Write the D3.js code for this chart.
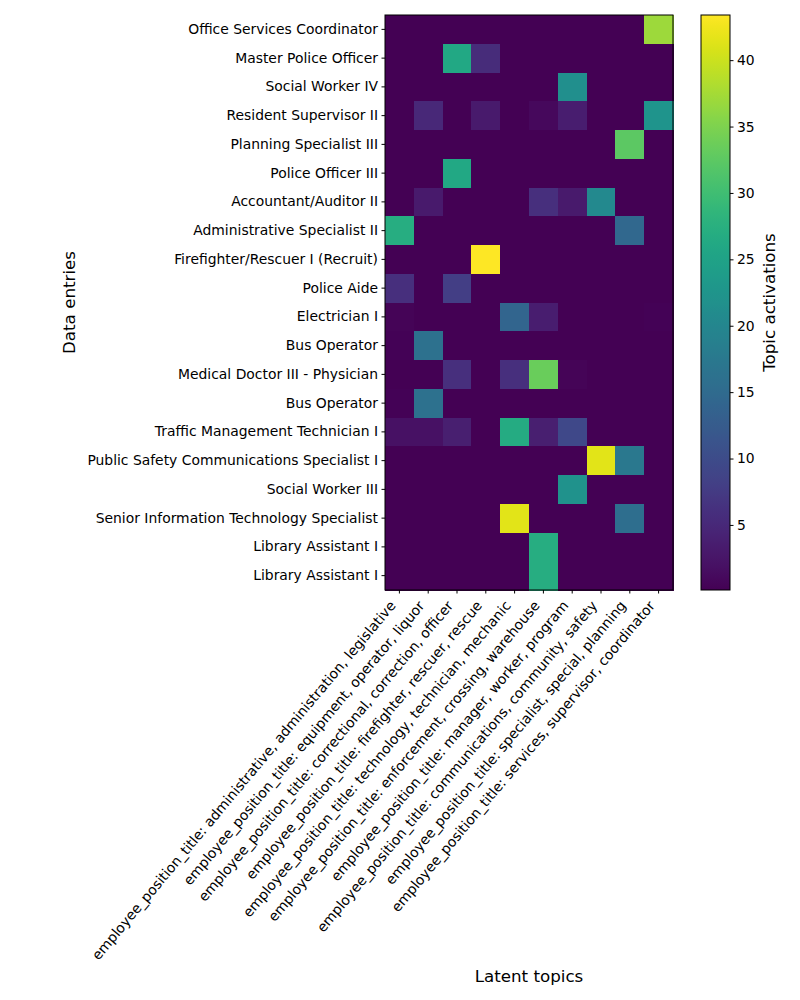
<!DOCTYPE html>
<html>
<head>
<meta charset="utf-8">
<script src="https://cdn.jsdelivr.net/npm/d3@7"></script>
<style>
  body { margin: 0; background: #fff; }
  text { font-family: "DejaVu Sans", sans-serif; fill: #000; }
</style>
</head>
<body>
<svg id="chart" width="800" height="1000"></svg>
<script>
const rowLabels = [
  "Office Services Coordinator",
  "Master Police Officer",
  "Social Worker IV",
  "Resident Supervisor II",
  "Planning Specialist III",
  "Police Officer III",
  "Accountant/Auditor II",
  "Administrative Specialist II",
  "Firefighter/Rescuer I (Recruit)",
  "Police Aide",
  "Electrician I",
  "Bus Operator",
  "Medical Doctor III - Physician",
  "Bus Operator",
  "Traffic Management Technician I",
  "Public Safety Communications Specialist I",
  "Social Worker III",
  "Senior Information Technology Specialist",
  "Library Assistant I",
  "Library Assistant I"
];

const topicLabels = [
  "employee_position_title: administrative, administration, legislative",
  "employee_position_title: equipment, operator, liquor",
  "employee_position_title: correctional, correction, officer",
  "employee_position_title: firefighter, rescuer, rescue",
  "employee_position_title: technology, technician, mechanic",
  "employee_position_title: enforcement, crossing, warehouse",
  "employee_position_title: manager, worker, program",
  "employee_position_title: communications, community, safety",
  "employee_position_title: specialist, special, planning",
  "employee_position_title: services, supervisor, coordinator"
];

const activations = [
  [0.1, 0.1, 0.1, 0.1, 0.1, 0.1, 0.1, 0.1, 0.1, 37.0],
  [0.1, 0.1, 26.0, 5.5, 0.1, 0.1, 0.1, 0.1, 0.1, 0.1],
  [0.1, 0.1, 0.1, 0.1, 0.1, 0.1, 21.5, 0.1, 0.1, 0.1],
  [0.1, 5.0, 0.1, 3.0, 0.1, 1.0, 3.5, 0.1, 0.1, 22.5],
  [0.1, 0.1, 0.1, 0.1, 0.1, 0.1, 0.1, 0.1, 32.5, 0.1],
  [0.1, 0.1, 26.0, 0.1, 0.1, 0.1, 0.1, 0.1, 0.1, 0.1],
  [0.1, 3.0, 0.1, 0.1, 0.1, 6.0, 3.0, 20.5, 0.1, 0.1],
  [27.0, 0.1, 0.1, 0.1, 0.1, 0.1, 0.1, 0.1, 14.5, 0.1],
  [0.1, 0.1, 0.1, 43.4, 0.1, 0.1, 0.1, 0.1, 0.1, 0.1],
  [6.0, 0.1, 8.0, 0.1, 0.1, 0.1, 0.1, 0.1, 0.1, 0.1],
  [0.5, 0.1, 0.1, 0.1, 14.0, 3.5, 0.1, 0.1, 0.1, 0.3],
  [0.4, 16.0, 0.1, 0.1, 0.1, 0.1, 0.1, 0.1, 0.1, 0.1],
  [0.1, 0.1, 6.0, 0.1, 6.0, 33.5, 0.6, 0.1, 0.1, 0.1],
  [0.4, 16.0, 0.1, 0.1, 0.1, 0.1, 0.1, 0.1, 0.1, 0.1],
  [2.0, 2.0, 3.8, 0.1, 26.5, 3.8, 9.5, 0.1, 0.1, 0.1],
  [0.1, 0.1, 0.1, 0.1, 0.1, 0.1, 0.1, 41.5, 17.5, 0.1],
  [0.1, 0.1, 0.1, 0.1, 0.1, 0.1, 22.0, 0.1, 0.1, 0.1],
  [0.1, 0.1, 0.1, 0.1, 41.5, 0.1, 0.1, 0.1, 15.5, 0.1],
  [0.1, 0.1, 0.1, 0.1, 0.1, 27.0, 0.1, 0.1, 0.1, 0.1],
  [0.1, 0.1, 0.1, 0.1, 0.1, 27.0, 0.1, 0.1, 0.1, 0.1]
];

const colorbarTicks = [5, 10, 15, 20, 25, 30, 35, 40];
const vMin = 0.1, vMax = 43.4;

const svg = d3.select("#chart");
const pL = 385, pR = 673, pT = 15, pB = 590;
const fs = "13.9px";

const x = d3.scaleBand().domain(d3.range(topicLabels.length)).range([pL, pR]).padding(0);
const y = d3.scaleBand().domain(d3.range(rowLabels.length)).range([pT, pB]).padding(0);
const color = d3.scaleSequential(d3.interpolateViridis).domain([vMin, vMax]);

// cells
const cells = [];
activations.forEach((row, i) => row.forEach((v, j) => cells.push({ i, j, v })));
svg.append("g").selectAll("rect").data(cells).join("rect")
  .attr("x", d => x(d.j))
  .attr("y", d => y(d.i))
  .attr("width", x.bandwidth() + 0.5)
  .attr("height", y.bandwidth() + 0.5)
  .attr("fill", d => color(d.v))
  .attr("shape-rendering", "crispEdges");

// frame
svg.append("rect").attr("x", pL).attr("y", pT)
  .attr("width", pR - pL).attr("height", pB - pT)
  .attr("fill", "none").attr("stroke", "#000").attr("stroke-width", 1);

// y axis
const yAxis = d3.axisLeft(y).tickSize(3.5).tickPadding(3.5).tickFormat(i => rowLabels[i]);
const gy = svg.append("g").attr("transform", `translate(${pL},0)`).call(yAxis);
gy.select(".domain").remove();
gy.selectAll("text").style("font-size", fs).style("font-family", "DejaVu Sans");
gy.selectAll("line").attr("stroke", "#000");

// x axis
const xAxis = d3.axisBottom(x).tickSize(3.5).tickFormat(() => "");
const gx = svg.append("g").attr("transform", `translate(0,${pB})`).call(xAxis);
gx.select(".domain").remove();
gx.selectAll("line").attr("stroke", "#000");
svg.append("g").selectAll("text").data(topicLabels).join("text")
  .attr("transform", (d, i) => `translate(${x(i) + x.bandwidth() / 2 - 3},${pB + 16}) rotate(-50)`)
  .attr("text-anchor", "end")
  .style("font-size", fs)
  .text(d => d);

// axis titles
svg.append("text").attr("transform", `translate(75,${(pT + pB) / 2}) rotate(-90)`)
  .attr("text-anchor", "middle").style("font-size", "16.7px").text("Data entries");
svg.append("text").attr("x", 529).attr("y", 982)
  .attr("text-anchor", "middle").style("font-size", "16.7px").text("Latent topics");

// colorbar
const cbX = 701, cbW = 29;
const cbScale = d3.scaleLinear().domain([vMin, vMax]).range([pB, pT]);
const defs = svg.append("defs");
const grad = defs.append("linearGradient").attr("id", "cbgrad")
  .attr("x1", 0).attr("y1", 1).attr("x2", 0).attr("y2", 0);
d3.range(0, 1.0001, 0.02).forEach(t => {
  grad.append("stop").attr("offset", t).attr("stop-color", d3.interpolateViridis(t));
});
svg.append("rect").attr("x", cbX).attr("y", pT).attr("width", cbW).attr("height", pB - pT)
  .attr("fill", "url(#cbgrad)").attr("stroke", "#000").attr("stroke-width", 1);
const cbAxis = d3.axisRight(cbScale).tickValues(colorbarTicks).tickSize(3.5).tickPadding(3.5);
const gc = svg.append("g").attr("transform", `translate(${cbX + cbW},0)`).call(cbAxis);
gc.select(".domain").remove();
gc.selectAll("text").style("font-size", fs).style("font-family", "DejaVu Sans");
gc.selectAll("line").attr("stroke", "#000");
svg.append("text").attr("transform", `translate(775,${(pT + pB) / 2}) rotate(-90)`)
  .attr("text-anchor", "middle").style("font-size", "16.7px").text("Topic activations");
</script>
</body>
</html>
